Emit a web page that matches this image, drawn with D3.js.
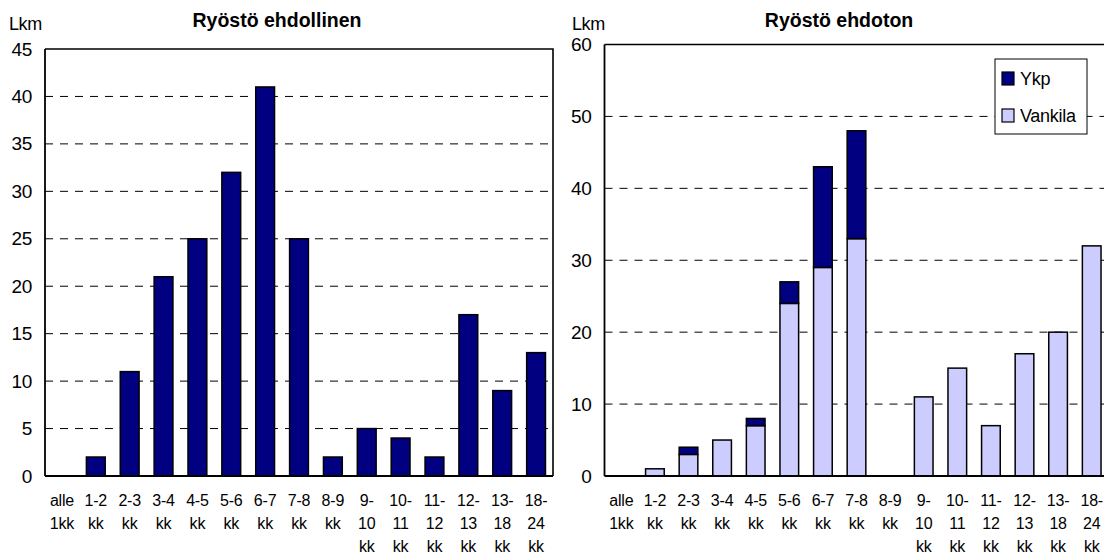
<!DOCTYPE html>
<html>
<head>
<meta charset="utf-8">
<script src="https://cdn.jsdelivr.net/npm/d3@7"></script>
<style>
  body { margin: 0; background: #fff; }
  svg { display: block; font-family: "Liberation Sans", Arial, sans-serif; }
</style>
</head>
<body>
<svg id="chart" width="1104" height="555"></svg>
<script>
// categories, one label line per entry
const categories = ["alle 1kk", "1-2 kk", "2-3 kk", "3-4 kk", "4-5 kk", "5-6 kk", "6-7 kk", "7-8 kk",
  "8-9 kk", "9-10 kk", "10-11 kk", "11-12 kk", "12-13 kk", "13-18 kk", "18-24 kk"];
const catLines = [["alle", "1kk"], ["1-2", "kk"], ["2-3", "kk"], ["3-4", "kk"], ["4-5", "kk"], ["5-6", "kk"],
  ["6-7", "kk"], ["7-8", "kk"], ["8-9", "kk"], ["9-", "10", "kk"], ["10-", "11", "kk"], ["11-", "12", "kk"],
  ["12-", "13", "kk"], ["13-", "18", "kk"], ["18-", "24", "kk"]];

const ehdollinen = [0, 2, 11, 21, 25, 32, 41, 25, 2, 5, 4, 2, 17, 9, 13];
const vankila = [0, 1, 3, 5, 7, 24, 29, 33, 0, 11, 15, 7, 17, 20, 32];
const ykp = [0, 0, 1, 0, 1, 3, 14, 15, 0, 0, 0, 0, 0, 0, 0];

const leftTicks = [0, 5, 10, 15, 20, 25, 30, 35, 40, 45];
const rightTicks = [0, 10, 20, 30, 40, 50, 60];

const navy = "#000080", lilac = "#ccccff";

const svg = d3.select("#chart");

let panel = (opt) => {
  const g = svg.append("g");

  const x = d3.scaleBand()
    .domain(categories)
    .range([opt.x0, opt.x1])
    .paddingInner(0.8 / 1.8)
    .paddingOuter(0.4 / 1.8);
  const y = d3.scaleLinear().domain([0, opt.max]).range([476, opt.top]);

  // gridlines
  g.append("g")
    .selectAll("line")
    .data(opt.ticks.filter(t => t > 0 && t < opt.max))
    .join("line")
    .attr("x1", opt.x0).attr("x2", opt.x1)
    .attr("y1", d => y(d)).attr("y2", d => y(d))
    .attr("stroke", "#000")
    .attr("stroke-width", 1)
    .attr("stroke-dasharray", "8,7");

  // plot frame (top + right)
  g.append("path")
    .attr("d", `M${opt.x0},${opt.top}H${opt.x1}V476`)
    .attr("fill", "none").attr("stroke", "#000").attr("stroke-width", 1.6);

  // bars
  const stack = d3.stack().keys(opt.keys)(categories.map((c, i) => {
    const row = {cat: c};
    opt.keys.forEach((k, j) => row[k] = opt.series[j][i]);
    return row;
  }));
  stack.forEach((layer, j) => {
    g.append("g")
      .selectAll("rect")
      .data(layer.filter(d => d[1] - d[0] > 0))
      .join("rect")
      .attr("x", d => x(d.data.cat))
      .attr("width", x.bandwidth())
      .attr("y", d => y(d[1]))
      .attr("height", d => y(d[0]) - y(d[1]))
      .attr("fill", opt.colors[j])
      .attr("stroke", "#000")
      .attr("stroke-width", 1.5);
  });

  // axes
  g.append("line")
    .attr("x1", opt.x0).attr("x2", opt.x0).attr("y1", opt.top).attr("y2", 476)
    .attr("stroke", "#000").attr("stroke-width", 1.8);
  g.append("line")
    .attr("x1", opt.x0).attr("x2", opt.x1).attr("y1", 476).attr("y2", 476)
    .attr("stroke", "#000").attr("stroke-width", 1.8);

  const yAxis = g.append("g")
    .attr("transform", `translate(${opt.x0},0)`)
    .call(d3.axisLeft(y).tickValues(opt.ticks).tickSize(0).tickPadding(13));
  yAxis.select(".domain").remove();
  yAxis.selectAll("text")
    .attr("font-family", "Liberation Sans, Arial, sans-serif")
    .attr("font-size", 19).attr("fill", "#000")
    .attr("letter-spacing", -0.3);

  // category labels
  const lab = g.append("g")
    .selectAll("text")
    .data(categories)
    .join("text")
    .attr("text-anchor", "middle")
    .attr("font-size", 16)
    .attr("letter-spacing", -0.2)
    .attr("transform", d => `translate(${x(d) + x.bandwidth() / 2},0)`);
  lab.selectAll("tspan")
    .data((d, i) => catLines[i])
    .join("tspan")
    .attr("x", 0)
    .attr("y", (d, i) => 506 + i * 23)
    .text(d => d);

  // title and unit
  g.append("text")
    .attr("x", opt.titleX).attr("y", 27)
    .attr("text-anchor", "middle")
    .attr("font-size", 19.5).attr("font-weight", "bold")
    .text(opt.title);
  g.append("text")
    .attr("x", opt.lkmX).attr("y", 30)
    .attr("font-size", 18).attr("letter-spacing", -0.4)
    .text("Lkm");

  return {g, x, y};
};

panel({
  x0: 45, x1: 553, top: 49, max: 45, ticks: leftTicks,
  keys: ["Ehdollinen"], series: [ehdollinen], colors: [navy],
  title: "Ryöstö ehdollinen", titleX: 277, lkmX: 9
});

const right = panel({
  x0: 604.5, x1: 1108.5, top: 44.5, max: 60, ticks: rightTicks,
  keys: ["Vankila", "Ykp"], series: [vankila, ykp], colors: [lilac, navy],
  title: "Ryöstö ehdoton", titleX: 839, lkmX: 572
});

// legend
const legendItems = [{name: "Ykp", color: navy}, {name: "Vankila", color: lilac}];
const lg = right.g.append("g").attr("transform", "translate(995,59)");
lg.append("rect")
  .attr("width", 92).attr("height", 75)
  .attr("fill", "#fff").attr("stroke", "#000").attr("stroke-width", 1);
const li = lg.selectAll("g.item")
  .data(legendItems)
  .join("g")
  .attr("class", "item")
  .attr("transform", (d, i) => `translate(7,${13 + i * 37})`);
li.append("rect")
  .attr("width", 12).attr("height", 13)
  .attr("fill", d => d.color).attr("stroke", "#000").attr("stroke-width", 1.2);
li.append("text")
  .attr("x", 18).attr("y", 12.5)
  .attr("font-size", 18).attr("letter-spacing", -0.3)
  .text(d => d.name);
</script>
</body>
</html>
